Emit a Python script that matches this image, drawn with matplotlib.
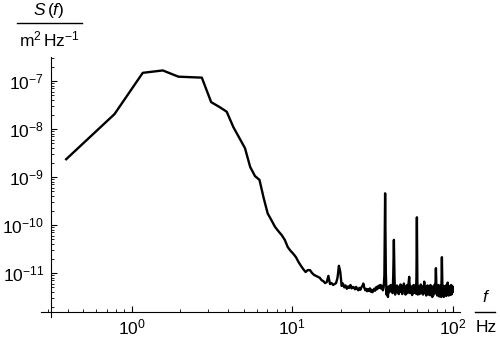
import numpy as np
import matplotlib
matplotlib.use("Agg")
import matplotlib.pyplot as plt
from matplotlib.ticker import LogLocator, NullFormatter, LogFormatterMathtext
from matplotlib.lines import Line2D

plt.rcParams['font.family'] = ['Liberation Sans', 'DejaVu Sans']
plt.rcParams['mathtext.fontset'] = 'custom'
plt.rcParams['mathtext.rm'] = 'Liberation Sans'
plt.rcParams['mathtext.it'] = 'Liberation Sans:italic'
plt.rcParams['mathtext.bf'] = 'Liberation Sans:bold'

# frequency bin width (Hz); spectrum is sampled on bins k * freq_step
freq_step = 0.390625

# log10 of the power spectral density S(f) in m^2 Hz^-1, one value per bin
log_psd = [
    -8.63, -7.69, -6.83, -6.78, -6.91, -6.92, -6.93, -7.44, -7.54, -7.64,
    -7.96, -8.19, -8.40, -8.79, -8.98, -9.06, -9.44, -9.76, -9.90, -10.04,
    -10.13, -10.21, -10.31, -10.46, -10.54, -10.60, -10.67, -10.77, -10.85, -10.92,
    -10.98, -10.94, -10.94, -11.00, -11.04, -11.06, -11.08, -11.10, -11.15, -11.17,
    -11.21, -11.19, -11.06, -11.23, -11.21, -11.25, -11.23, -11.21, -11.10, -10.85,
    -10.98,
    # k = 52 ...
    -11.27, -11.22, -11.30, -11.26, -11.33, -11.28, -11.31, -11.25, -11.32, -11.29,
    -11.30, -11.34, -11.29, -11.33, -11.36, -11.31, -11.35, -11.30, -11.27, -11.22,
    -11.31, -11.36, -11.33, -11.38, -11.34, -11.37, -11.32, -11.39, -11.35, -11.40,
    -11.36, -11.33, -11.37, -11.30, -11.34, -11.28, -11.32, -11.26, -11.31, -11.25,
    -11.33, -11.27, -11.36, -11.30, -11.05, -9.34, -11.00, -11.45, -11.30, -11.50,
    -11.28, -11.40, -11.33, -11.25, -11.38, -11.30, -11.42, -11.05, -10.31, -11.10,
    -11.45, -11.30, -11.38, -11.26, -11.40, -11.32, -11.44, -11.28, -11.36, -11.24,
    -11.40, -11.30, -11.44, -11.27, -11.35, -11.22, -11.38, -11.31, -11.45, -11.28,
    -11.37, -11.25, -11.42, -11.30, -11.20, -11.08, -11.30, -11.42, -11.27, -11.38,
    -11.31, -11.46, -11.29, -11.36, -11.25, -11.41, -11.30, -11.38, -11.26, -11.43,
    -11.10, -9.84, -11.15, -11.45, -11.30, -11.40, -11.27, -11.44, -11.31, -11.37,
    -11.24, -11.42, -11.32, -11.38, -11.28, -11.45, -11.30, -11.36, -11.18, -11.38,
    -11.29, -11.43, -11.33, -11.47, -11.31, -11.39, -11.26, -11.44, -11.32, -11.40,
    -11.27, -11.46, -11.34, -11.38, -11.25, -11.43, -11.30, -11.48, -11.33, -11.50,
    -11.31, -11.42, -11.27, -11.45, -11.33, -11.39, -11.24, -11.41, -11.15, -10.90,
    -11.20, -11.44, -11.30, -11.47, -11.28, -11.38, -11.25, -11.43, -11.32, -11.49,
    -11.30, -11.40, -11.26, -11.45, -11.33, -11.50, -11.10, -10.67, -11.15, -11.47,
    -11.32, -11.41, -11.27, -11.50, -11.34, -11.44, -11.28, -11.46, -11.33, -11.40,
    -11.26, -11.48, -11.35, -11.42, -11.29, -11.45, -11.20, -11.43, -11.31, -11.47,
    -11.28, -11.41, -11.34, -11.46, -11.27, -11.44, -11.32, -11.39, -11.25, -11.45,
    -11.30, -11.42, -11.27, -11.40, -11.30,
]

x_ticks = [1, 10, 100]
y_ticks = [1e-11, 1e-10, 1e-9, 1e-8, 1e-7]

freq = freq_step * np.arange(1, len(log_psd) + 1)
psd = 10.0 ** np.array(log_psd)

W, H = 500, 340
fig = plt.figure(figsize=(W / 100, H / 100), dpi=100)
ax = fig.add_axes([41 / W, 1 - 317 / H, (460 - 41) / W, (317 - 57) / H])
ax.set_xscale('log')
ax.set_yscale('log')
ax.set_xlim(10 ** -0.565, 10 ** 2.045)
ax.set_ylim(10 ** -11.917, 10 ** -6.5)

ax.plot(freq, psd, color='black', lw=1.7, solid_joinstyle='round')

for s in ['top', 'right']:
    ax.spines[s].set_visible(False)
ax.spines['left'].set_position(('data', 10 ** -0.503))
ax.spines['bottom'].set_position(('data', 10 ** -11.8125))
for s in ['left', 'bottom']:
    ax.spines[s].set_linewidth(0.8)

ax.xaxis.set_major_locator(matplotlib.ticker.FixedLocator(x_ticks))
ax.yaxis.set_major_locator(matplotlib.ticker.FixedLocator(y_ticks))
ax.xaxis.set_minor_locator(LogLocator(base=10, subs=np.arange(2, 10), numticks=20))
ax.yaxis.set_minor_locator(LogLocator(base=10, subs=np.arange(2, 10), numticks=20))
ax.xaxis.set_major_formatter(LogFormatterMathtext())
ax.yaxis.set_major_formatter(LogFormatterMathtext())
ax.xaxis.set_minor_formatter(NullFormatter())
ax.yaxis.set_minor_formatter(NullFormatter())
ax.tick_params(which='major', direction='in', length=4, width=0.8, labelsize=12.5, pad=4)
ax.tick_params(which='minor', direction='in', length=2, width=0.6)
ax.tick_params(axis='y', which='major', pad=5)

# axis labels (Mathematica style fractions)
fig.text(49 / W, 1 - 11 / H, r'$S\,(f)$', ha='center', va='center', fontsize=12.5)
fig.add_artist(Line2D([17 / W, 82 / W], [1 - 23 / H, 1 - 23 / H], color='black', lw=1.0))
fig.text(49.5 / W, 1 - 39 / H, r'$\mathrm{m}^2\,\mathrm{Hz}^{-1}$', ha='center', va='center', fontsize=12.5)

fig.text(486 / W, 1 - 297 / H, r'$f$', ha='center', va='center', fontsize=12.5)
fig.add_artist(Line2D([475 / W, 495 / W], [1 - 311.5 / H, 1 - 311.5 / H], color='black', lw=1.0))
fig.text(486 / W, 1 - 327.5 / H, 'Hz', ha='center', va='center', fontsize=12.5)

fig.savefig('out.png', dpi=100)
